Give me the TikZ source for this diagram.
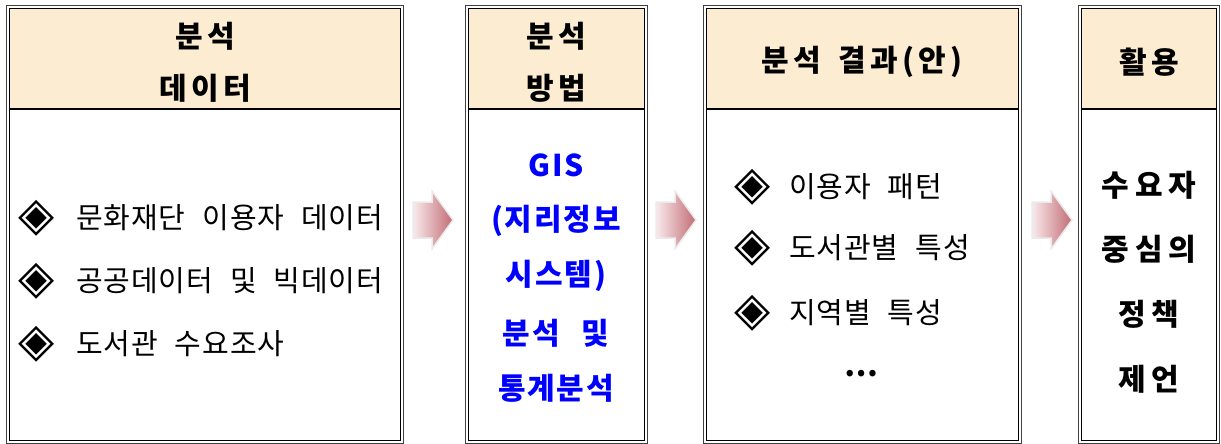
\documentclass[tikz,border=0pt]{standalone}
\usepackage{fontspec}
\setmainfont{Noto Sans CJK KR}
\newfontfamily\bodyfont[WordSpace=2.3,LetterSpace=3]{Noto Sans CJK KR}
\newfontfamily\headfont[LetterSpace=14,WordSpace=1.6]{Noto Sans CJK KR}
\newfontfamily\recfont[LetterSpace=19]{Noto Sans CJK KR}
\newfontfamily\bluefont[LetterSpace=6,WordSpace=2.5]{Noto Sans CJK KR}
\newfontfamily\symfont{DejaVu Sans}
\definecolor{hdr}{RGB}{251,236,210}
\definecolor{arrowR}{RGB}{194,108,116}
\definecolor{arrowL}{RGB}{248,234,236}
\definecolor{txtblue}{RGB}{0,0,255}
\tikzset{
  outerline/.style={draw=black!75,line width=0.9pt},
  innerline/.style={draw=black,line width=0.9pt},
  hdline/.style={draw=black,line width=2.2pt},
  hd/.style={font=\headfont\bfseries\fontsize{30}{34}\selectfont,inner sep=0pt},
  item/.style={font=\bodyfont\fontsize{29}{34}\selectfont,anchor=west,inner sep=0pt},
  dia/.style={font=\symfont\fontsize{47}{47}\selectfont,inner sep=0pt},
  bluetxt/.style={font=\bluefont\bfseries\fontsize{30}{34}\selectfont,text=txtblue,inner sep=0pt},
  recom/.style={font=\recfont\bfseries\fontsize{30}{34}\selectfont,inner sep=0pt},
  blockarrow/.style={left color=arrowL,right color=arrowR,draw=black!8,line width=1.5pt}
}
\begin{document}
\begin{tikzpicture}[x=1pt,y=-1pt]
\useasboundingbox (0,0) rectangle (1221,444);
% panels
\foreach \L/\R in {6/403,465/647,703/1021,1078/1219}{
  \fill[hdr] (\L+3,8) rectangle (\R-3,109);
  \draw[outerline] (\L,5) rectangle (\R,443);
  \draw[innerline] (\L+3,8) rectangle (\R-3,440);
  \draw[hdline] (\L+3,109) -- (\R-3,109);
}
% headers
\node[hd] (h1a) at (205,36) {분석};
\node[hd] (h1b) at (205,88) {데이터};
\node[hd] (h2a) at (556,36) {분석};
\node[hd] (h2b) at (556,88) {방법};
\node[hd] (h3) at (862,62) {분석 결과(안)};
\node[hd] (h4) at (1149,62) {활용};
% box 1 items
\node[dia] (k1) at (37,218) {◈};
\node[dia] (k2) at (37,281) {◈};
\node[dia] (k3) at (37,344) {◈};
\node[item] (d1) at (76,218) {문화재단 이용자 데이터};
\node[item] (d2) at (76,281) {공공데이터 및 빅데이터};
\node[item] (d3) at (76,344) {도서관 수요조사};
% box 2
\node[bluetxt] (m1) at (556,165) {GIS};
\node[bluetxt] (m2) at (556,221) {(지리정보};
\node[bluetxt] (m3) at (556,276) {시스템)};
\node[bluetxt] (m4) at (556,333) {분석 및};
\node[bluetxt] (m5) at (556,388) {통계분석};
% box 3
\node[dia] (k4) at (753,187) {◈};
\node[dia] (k5) at (753,248) {◈};
\node[dia] (k6) at (753,313) {◈};
\node[item] (r1) at (789,187) {이용자 패턴};
\node[item] (r2) at (789,248) {도서관별 특성};
\node[item] (r3) at (789,313) {지역별 특성};
\node[font=\bodyfont\bfseries\fontsize{30}{34}\selectfont,inner sep=0pt] (r4) at (861,374) {…};
% box 4
\node[recom] (u1) at (1149,185) {수요자};
\node[recom] (u2) at (1149,249) {중심의};
\node[recom] (u3) at (1149,314) {정책};
\node[recom] (u4) at (1149,379) {제언};
% arrows
\foreach \a in {413,656,1032}{
  \shade[blockarrow] (\a,202) -- (\a+19,202) -- (\a+19,191) -- (\a+40,220)
     -- (\a+19,249) -- (\a+19,238) -- (\a,238) -- cycle;
}
\end{tikzpicture}
\end{document}
